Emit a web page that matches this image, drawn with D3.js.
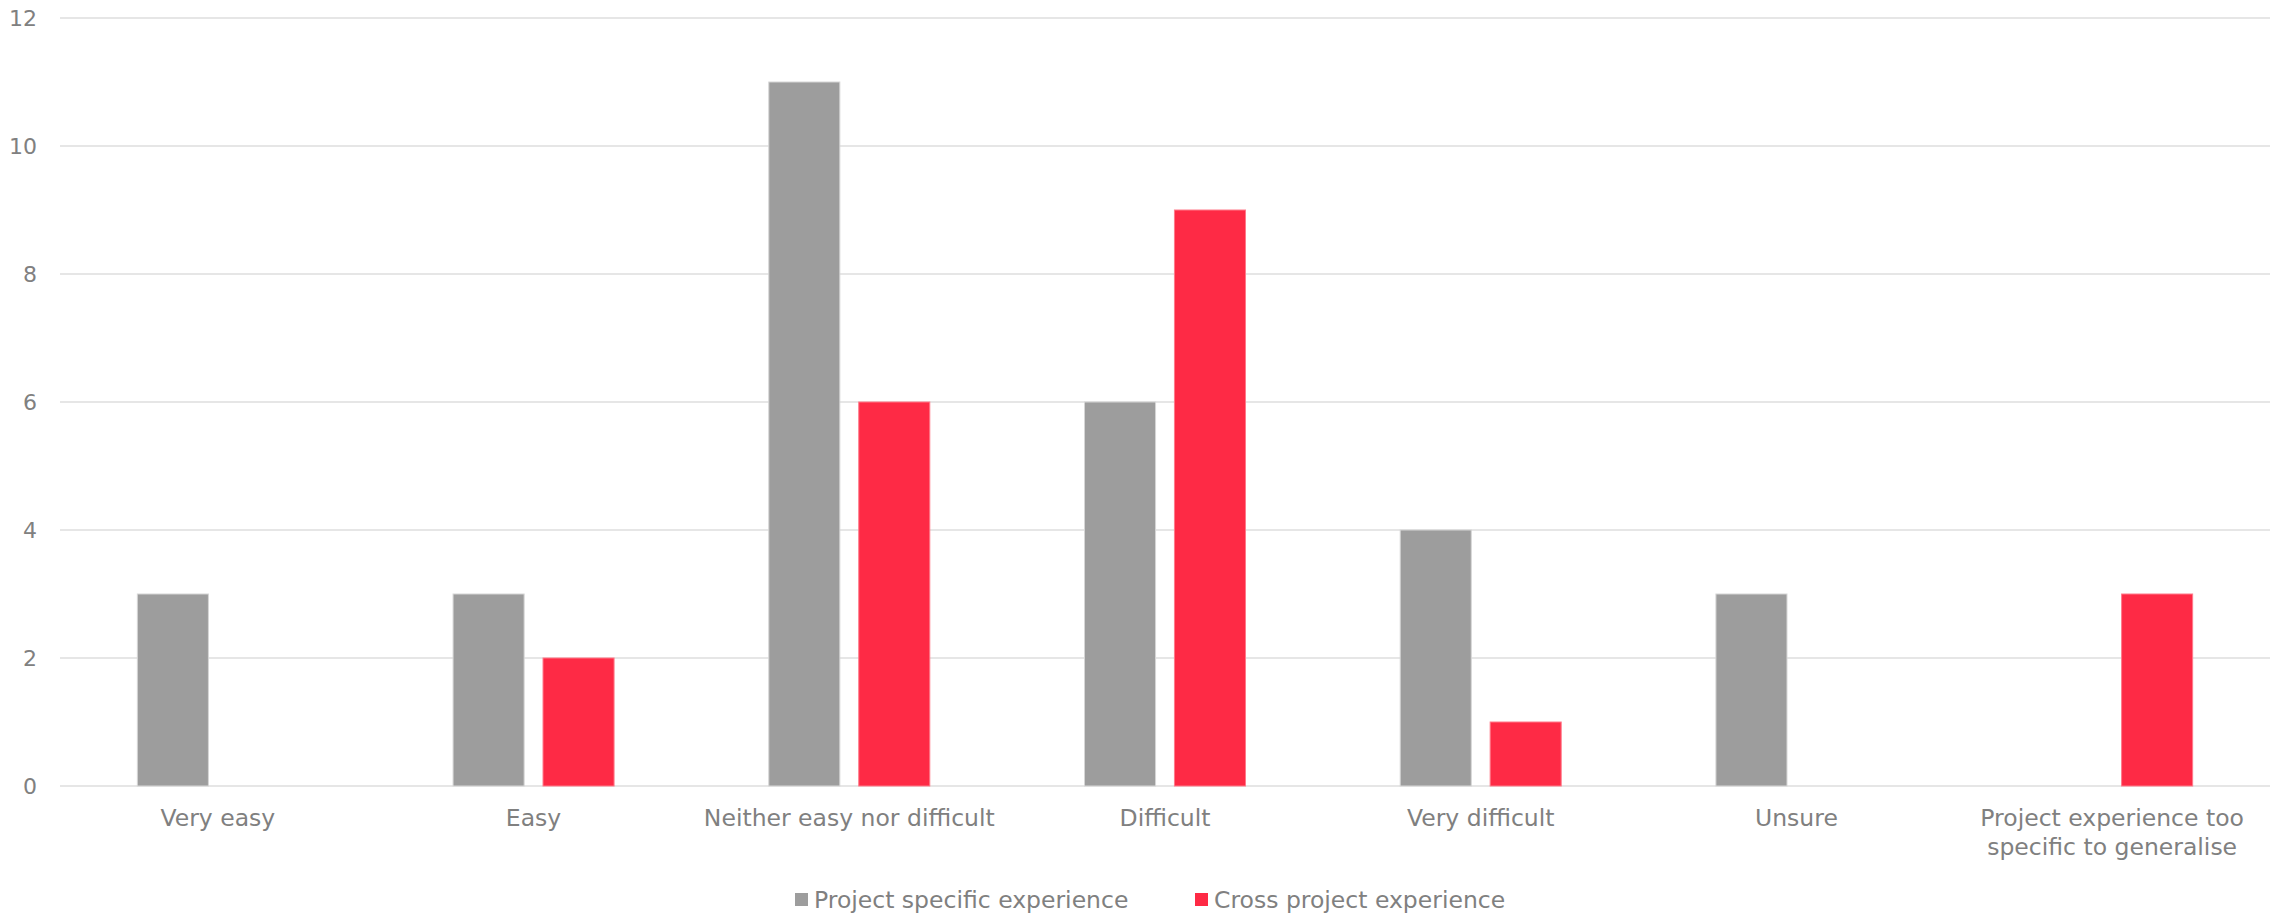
<!DOCTYPE html>
<html>
<head>
<meta charset="utf-8">
<script src="https://cdn.jsdelivr.net/npm/d3@7"></script>
<style>
  html, body { margin: 0; padding: 0; background: #ffffff; }
  svg { display: block; }
  text { font-family: "DejaVu Sans", "Noto Sans", sans-serif; fill: #808080; }
</style>
</head>
<body>
<svg id="chart" width="2280" height="916"></svg>
<script>
// Survey answers: how easy is it to share experience
const categories = [
  "Very easy",
  "Easy",
  "Neither easy nor difficult",
  "Difficult",
  "Very difficult",
  "Unsure",
  "Project experience too specific to generalise"
];
const seriesNames = ["Project specific experience", "Cross project experience"];
const projectSpecific = [3, 3, 11, 6, 4, 3, 0];
const crossProject = [0, 2, 6, 9, 1, 0, 3];
const yTicks = [0, 2, 4, 6, 8, 10, 12];
const colors = ["#9d9d9d", "#fe2a45"];

const svg = d3.select("#chart");
const margin = { left: 60, right: 10, top: 18, bottom: 130 };
const W = 2280, H = 916;
const zeroY = 786;
const fontSize = 23.5;
const groupW = 161;

const x0 = d3.scaleBand().domain(categories).range([margin.left, W - margin.right]).paddingInner(0).paddingOuter(0);
const x1 = d3.scaleBand().domain(seriesNames).range([0, groupW]).paddingInner(0.21).paddingOuter(0);
const y = d3.scaleLinear().domain([0, 12]).range([zeroY, margin.top]);

// Horizontal gridlines
svg.append("g")
  .selectAll("line")
  .data(yTicks)
  .join("line")
  .attr("x1", margin.left)
  .attr("x2", W - margin.right)
  .attr("y1", d => y(d))
  .attr("y2", d => y(d))
  .attr("stroke", "#dedede")
  .attr("stroke-width", 1.5);

// Y axis labels
const yAxis = d3.axisLeft(y).tickValues(yTicks).tickSize(0).tickPadding(0);
const gy = svg.append("g").attr("transform", "translate(37,0)").call(yAxis);
gy.select(".domain").remove();
gy.selectAll("text")
  .attr("font-size", 22)
  .attr("font-family", null)
  .attr("fill", "#808080");

// Bars
const rows = categories.map((c, i) => ({ cat: c, vals: [projectSpecific[i], crossProject[i]] }));
const groups = svg.append("g")
  .selectAll("g")
  .data(rows)
  .join("g")
  .attr("transform", d => `translate(${x0(d.cat) + x0.bandwidth() / 2 - groupW / 2},0)`);

groups.selectAll("rect")
  .data(d => d.vals.map((v, k) => ({ name: seriesNames[k], v, k })).filter(e => e.v > 0))
  .join("rect")
  .attr("x", d => x1(d.name))
  .attr("width", x1.bandwidth())
  .attr("y", d => y(d.v))
  .attr("height", d => y(0) - y(d.v))
  .attr("fill", d => colors[d.k])
  .attr("stroke", d => d.k === 0 ? "#d6d6d6" : "#ff7a8a")
  .attr("stroke-width", 1);

// X axis category labels (wrapped when too wide)
const xAxis = d3.axisBottom(x0).tickSize(0).tickPadding(0);
const gx = svg.append("g").attr("transform", `translate(0,${zeroY})`).call(xAxis);
gx.select(".domain").remove();
gx.selectAll("text").remove();
gx.selectAll(".tick").each(function(d) {
  const t = d3.select(this).append("text")
    .attr("text-anchor", "middle")
    .attr("font-size", fontSize)
    .attr("fill", "#808080");
  const lines = d === "Project experience too specific to generalise"
    ? ["Project experience too", "specific to generalise"]
    : [d];
  lines.forEach((ln, i) => {
    t.append("tspan").attr("x", 0).attr("y", 40 + i * 29).text(ln);
  });
});

// Legend
const legend = svg.append("g").attr("transform", "translate(0,900)");
const legendItems = [
  { name: seriesNames[0], color: colors[0], x: 795 },
  { name: seriesNames[1], color: colors[1], x: 1195 }
];
legendItems.forEach(it => {
  legend.append("rect")
    .attr("x", it.x).attr("y", -7)
    .attr("width", 13).attr("height", 13)
    .attr("fill", it.color);
  legend.append("text")
    .attr("x", it.x + 19).attr("y", 8)
    .attr("font-size", fontSize)
    .attr("fill", "#808080")
    .text(it.name);
});
</script>
</body>
</html>
